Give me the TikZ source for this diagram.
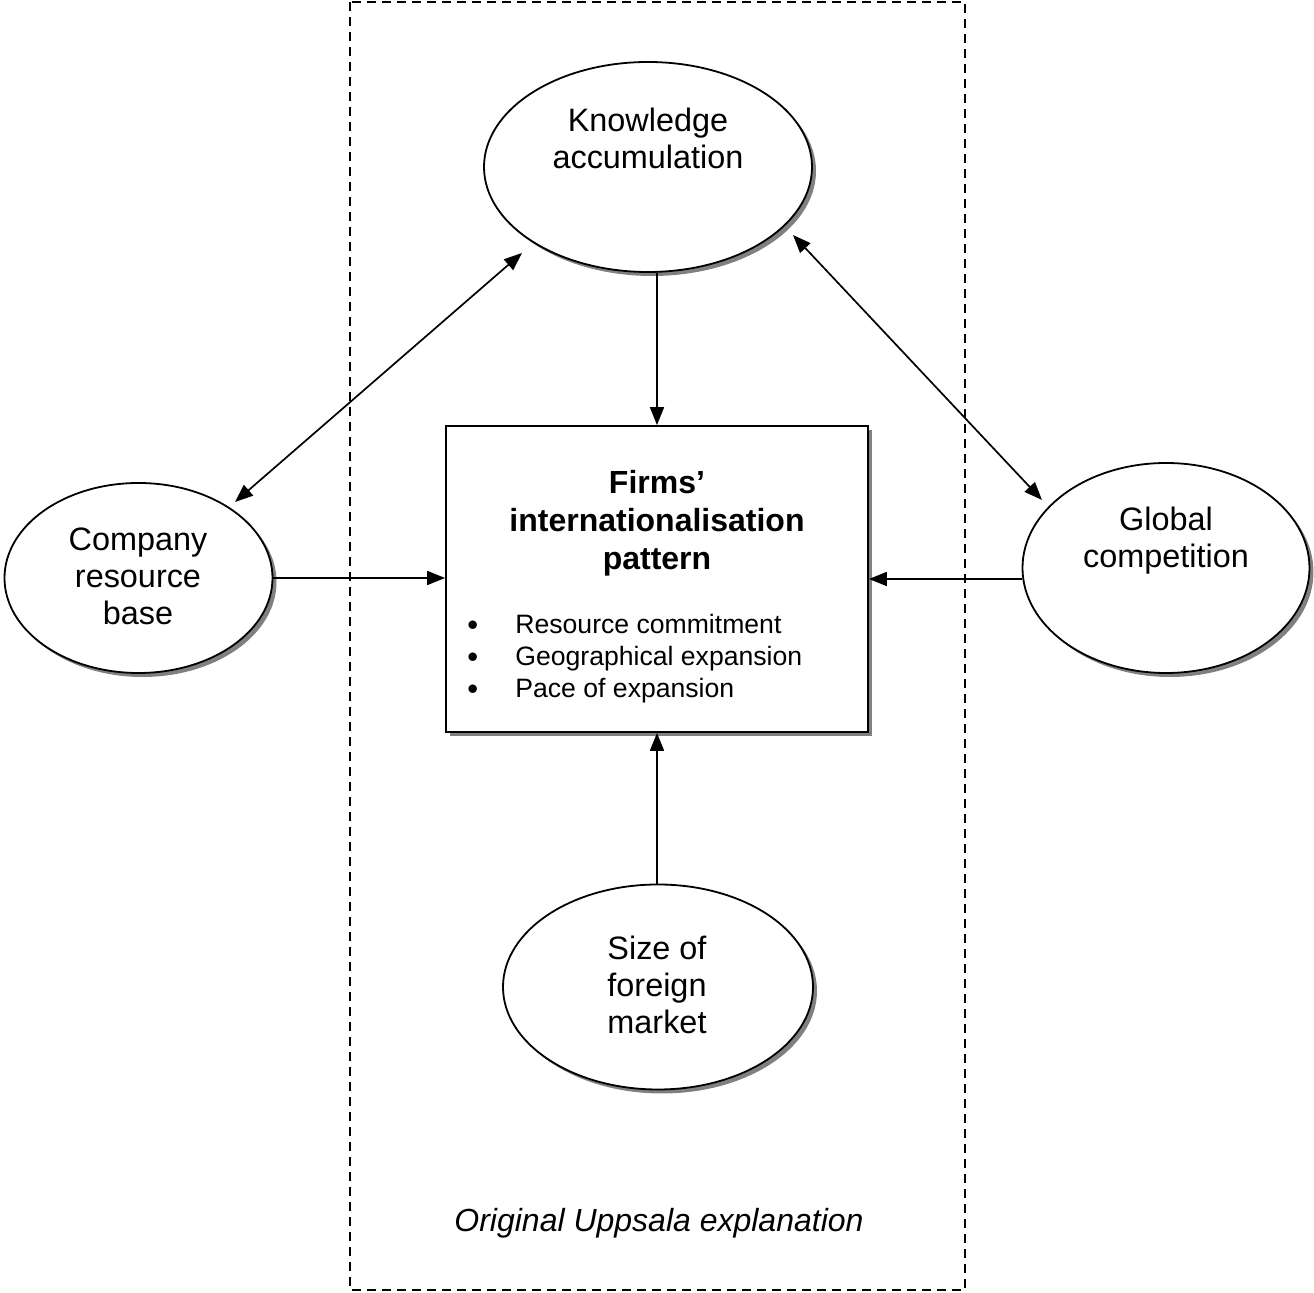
\documentclass[tikz,border=0pt]{standalone}
\usepackage{fontspec}
\setmainfont{Liberation Sans}
\usetikzlibrary{arrows.meta,shapes.geometric,shadows}

\tikzset{
  shade box/.style={drop shadow={shadow xshift=2pt, shadow yshift=-2pt, fill=black!50, opacity=1}},
  oval/.style={ellipse, draw, line width=0.9pt, fill=white, inner sep=0pt, shade box},
  txt/.style={align=center, inner sep=0pt, font=\fontsize{16.2}{18.5}\selectfont},
  link/.style={line width=0.85pt, -{Triangle[length=9pt,width=7pt]}},
  both link/.style={link, {Triangle[length=9pt,width=7pt]}-{Triangle[length=9pt,width=7pt]}},
}
\newcommand{\listdot}{\makebox[24pt][l]{\raisebox{-0.9pt}[0pt][0pt]{\fontsize{15.5}{16}\selectfont\textbullet}}}

\begin{document}
\begin{tikzpicture}[x=0.5pt,y=-0.5pt]
\useasboundingbox (0,0) rectangle (1314,1293);
\draw[line width=0.75pt, dash pattern=on 4.5pt off 3pt] (350,2) rectangle (965,1290);

% ovals
\node[oval, minimum width=164pt, minimum height=105pt] (ka) at (648,167) {};
\node[oval, minimum width=134pt, minimum height=95pt] (cr) at (138.5,578) {};
\node[oval, minimum width=143.5pt, minimum height=105pt] (gc) at (1166,568) {};
\node[oval, minimum width=155pt, minimum height=102.5pt] (sz) at (658,987) {};
\node[txt] (kaText) at (648,138) {Knowledge\\accumulation};
\node[txt] (crText) at (138,576) {Company\\resource\\base};
\node[txt] (gcText) at (1166,541) {Global\\competition};
\node[txt] (szText) at (657,985) {Size of\\foreign\\market};

% central box
\node[draw, line width=0.9pt, fill=white, shade box, minimum width=211pt, minimum height=153pt] (box) at (657,579) {};
\node[txt, font=\fontsize{16}{19}\selectfont\bfseries] (title) at (657,523) {Firms’\\internationalisation\\pattern};
\node[anchor=west, align=left, inner sep=0pt, font=\fontsize{13.3}{16}\selectfont] (list) at (467,659)
  {\listdot Resource commitment\\
   \listdot Geographical expansion\\
   \listdot Pace of expansion};

\node[txt, font=\fontsize{16}{18.5}\selectfont\itshape] (frameText) at (659,1223) {Original Uppsala explanation};

% connectors
\draw[link] (ka.south -| box.north) -- (box.north);
\draw[link] (box.south |- sz.north) -- (box.south);
\draw[link] (cr.east) -- (cr.east -| box.west);
\draw[link] (gc.west |- box.east) -- (box.east);
\coordinate (kaLeft) at (522,253);
\coordinate (kaRight) at (793,235);
\coordinate (crTop) at (235,502);
\coordinate (gcTop) at (1042,500);
\draw[both link] (crTop) -- (kaLeft);
\draw[both link] (kaRight) -- (gcTop);
\end{tikzpicture}
\end{document}
